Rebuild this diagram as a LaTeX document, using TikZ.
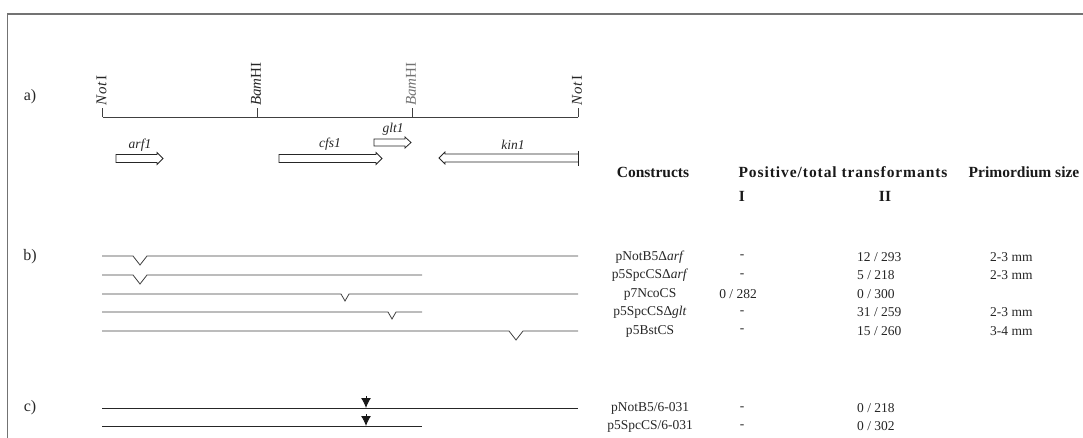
\documentclass[tikz,border=0pt]{standalone}
\usepackage{fontspec}
\setmainfont{Liberation Serif}
\usetikzlibrary{arrows.meta}
\begin{document}
\begin{tikzpicture}[x=1pt,y=-1pt,
  ink/.style={draw=black!75, line width=0.8pt},
  frame/.style={draw=black!55, line width=1.2pt},
  gene/.style={draw=black!85, line width=0.8pt, line join=miter},
  panel/.style={font=\fontsize{16}{16}\selectfont, text=black!85, inner sep=0pt},
  site/.style={font=\fontsize{15}{15}\selectfont, text=black!85, rotate=90, anchor=west, inner sep=0pt},
  glab/.style={font=\fontsize{13.5}{13.5}\selectfont\itshape, text=black!85, inner sep=0pt, anchor=south},
  head/.style={font=\fontsize{15.5}{15.5}\selectfont\bfseries, text=black!90, inner sep=0pt},
  cell/.style={font=\fontsize{13.5}{13.5}\selectfont, text=black!85, inner sep=0pt},
  insert/.style={draw=black!90, line width=1pt, -{Latex[length=10pt,width=10pt]}}
]
\useasboundingbox (0,0) rectangle (1083,438);
% frame (top and left only)
\coordinate (fr0) at (1083,14);
\coordinate (fr1) at (7.5,14);
\coordinate (fr2) at (7.5,438);
\draw[frame] (fr0) -- (fr1) -- (fr2);

% panel labels
\node[panel] (pa) at (30,97) {a)};
\node[panel] (pb) at (30,257) {b)};
\node[panel] (pc) at (30,408) {c)};

% restriction map
\coordinate (m0) at (102.5,117.5);
\coordinate (m1) at (257,117.5);
\coordinate (m2) at (412,117.5);
\coordinate (m3) at (578,117.5);
\draw[ink] (m0) -- (m3);
\foreach \c in {m0,m1,m2,m3} \draw[ink] (\c) -- ++(0,-9);
\node[site] (s0) at (101.5,106) {\textit{N\kern1pt o\kern1pt t}\kern1pt I};
\node[site] (s1) at (256,106) {\textit{Bam}HI};
\node[site, text=black!55] (s2) at (411,106) {\textit{Bam}HI};
\node[site] (s3) at (577,106) {\textit{N\kern1pt o\kern1pt t}\kern1pt I};

% genes
\draw[gene] (116,154.5) -- (157,154.5) -- (157,152.5) -- (163,158.5) -- (157,164.5) -- (157,162.5) -- (116,162.5) -- cycle;
\node[glab] (g1) at (140,152) {arf1};
\draw[gene] (279,154.5) -- (376,154.5) -- (376,152.5) -- (382,158.5) -- (376,164.5) -- (376,162.5) -- (279,162.5) -- cycle;
\node[glab] (g2) at (330,151) {cfs1};
\draw[gene] (374,139) -- (405,139) -- (405,137) -- (411,142.5) -- (405,148) -- (405,146) -- (374,146) -- cycle;
\node[glab] (g3) at (393,136) {glt1};
\draw[gene] (578,154) -- (445,154) -- (445,152) -- (439,158) -- (445,164) -- (445,162) -- (578,162);
\draw[gene] (578,151) -- (578,166);
\node[glab] (g4) at (513,150) {kin1};

% table header
\node[head] (h1) at (653,172) {Constructs};
\node[head] (h2) at (843,172) {\addfontfeature{LetterSpace=6}Positive/total transformants};
\node[head] (h3) at (1024,172) {Primordium size};
\node[head] (h4) at (742,196) {I};
\node[head] (h5) at (885,196) {II};

% b) constructs
\foreach \y/\e/\n/\w/\d in {256/578/140/7/9, 275/422/140/7/9, 294/578/345/4/7, 312/422/392/4/7, 331/578/516/7/9}{
  \coordinate (ls) at (102,\y);
  \coordinate (le) at (\e,\y);
  \draw[ink] (ls) -- (\n-\w,\y) -- (\n,\y+\d) -- (\n+\w,\y) -- (le);
}

% c) constructs
\coordinate (c1s) at (102,408);
\coordinate (c1e) at (578,408);
\coordinate (c2s) at (102,426);
\coordinate (c2e) at (422,426);
\draw[ink, draw=black!85] (c1s) -- (c1e);
\draw[ink, draw=black!85] (c2s) -- (c2e);
\coordinate (t1) at (366,408);
\coordinate (t2) at (366,426);
\draw[insert] (366,396) -- (t1);
\draw[insert] (366,414) -- (t2);

% table rows
\node[cell] (r1a) at (650,257) {pNotB5Δ\textit{arf}};
\node[cell] (r1b) at (742,257) {-};
\node[cell, anchor=west] (r1c) at (857,257) {12 / 293};
\node[cell, anchor=west] (r1d) at (990,257) {2-3 mm};

\node[cell] (r2a) at (650,275.5) {p5SpcCSΔ\textit{arf}};
\node[cell] (r2b) at (742,275.5) {-};
\node[cell, anchor=west] (r2c) at (857,275.5) {5 / 218};
\node[cell, anchor=west] (r2d) at (990,275.5) {2-3 mm};

\node[cell] (r3a) at (650,294) {p7NcoCS};
\node[cell] (r3b) at (738,294) {0 / 282};
\node[cell, anchor=west] (r3c) at (857,294) {0 / 300};

\node[cell] (r4a) at (650,312.5) {p5SpcCSΔ\textit{glt}};
\node[cell] (r4b) at (742,312.5) {-};
\node[cell, anchor=west] (r4c) at (857,312.5) {31 / 259};
\node[cell, anchor=west] (r4d) at (990,312.5) {2-3 mm};

\node[cell] (r5a) at (650,331) {p5BstCS};
\node[cell] (r5b) at (742,331) {-};
\node[cell, anchor=west] (r5c) at (857,331) {15 / 260};
\node[cell, anchor=west] (r5d) at (990,331) {3-4 mm};

\node[cell] (r6a) at (650,408.5) {pNotB5/6-031};
\node[cell] (r6b) at (742,408.5) {-};
\node[cell, anchor=west] (r6c) at (857,408.5) {0 / 218};

\node[cell] (r7a) at (650,426.5) {p5SpcCS/6-031};
\node[cell] (r7b) at (742,426.5) {-};
\node[cell, anchor=west] (r7c) at (857,426.5) {0 / 302};
\end{tikzpicture}
\end{document}
